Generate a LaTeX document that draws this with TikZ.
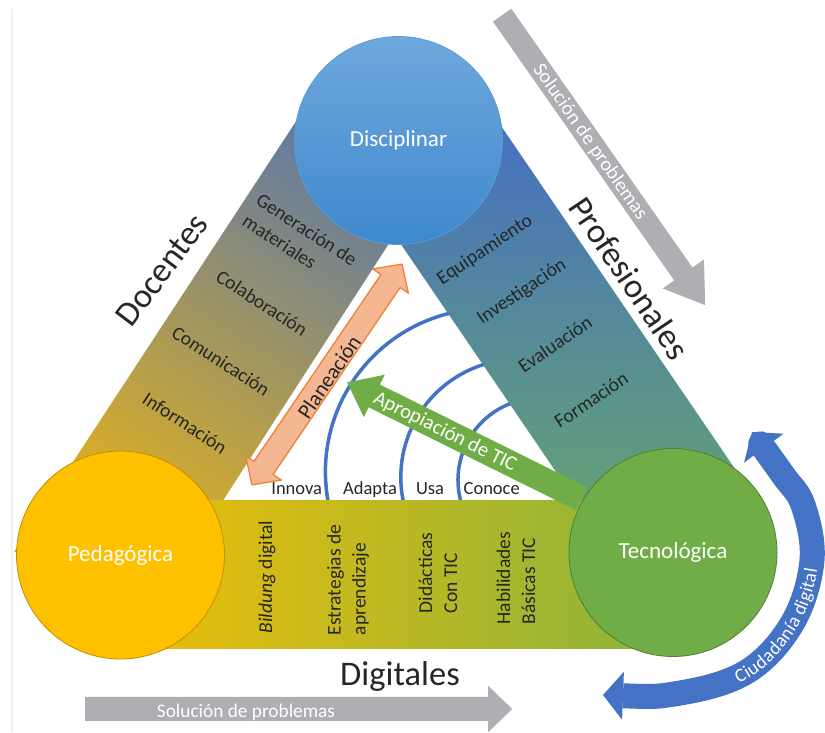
\documentclass[tikz,border=0pt]{standalone}
\usepackage{fontspec}
\setmainfont{Carlito}
\usetikzlibrary{shapes.arrows,arrows.meta,decorations.text}

\definecolor{textgray}{HTML}{262626}
\definecolor{framegray}{HTML}{F0F0F0}
\definecolor{docgold}{HTML}{E0B020}
\definecolor{docslate}{HTML}{5F7AA5}
\definecolor{problue}{HTML}{4570C2}
\definecolor{progreen}{HTML}{67A86B}
\definecolor{diggold}{HTML}{EEBE08}
\definecolor{diggreen}{HTML}{89B33D}
\definecolor{arcblue}{HTML}{4472C4}
\definecolor{disctop}{HTML}{6FA8DC}
\definecolor{discbot}{HTML}{3F88CD}
\definecolor{discline}{HTML}{5B9BD5}
\definecolor{pedfill}{HTML}{FFC000}
\definecolor{pedline}{HTML}{BF9000}
\definecolor{tecfill}{HTML}{70AD47}
\definecolor{tecline}{HTML}{507E32}
\definecolor{planorange}{HTML}{ED7D31}
\definecolor{plansalmon}{HTML}{F5B692}
\definecolor{solgray}{HTML}{AEAFB2}

\tikzset{
  compcircle/.style={circle, minimum size=208pt, inner sep=0pt, line width=0.8pt,
    text=white, font=\fontsize{23}{28}\selectfont},
  bandtext/.style={text=textgray, font=\fontsize{19.5}{25}\selectfont, align=left},
  biglabel/.style={text=textgray, font=\fontsize{34.5}{40}\selectfont},
  lvltext/.style={text=textgray, font=\fontsize{18.5}{22}\selectfont},
  arrowtext/.style={font=\fontsize{20}{24}\selectfont},
  levels/.style={draw=arcblue, line width=3.5pt},
  blockarrow/.style={text height=0pt, text depth=0pt, inner xsep=0pt, anchor=tail},
}

\begin{document}
\begin{tikzpicture}[x=1pt, y=-1pt, line join=round]
\useasboundingbox (0,0) rectangle (825,732);
\draw[framegray, line width=1.5pt] (12,9) -- (12,732);

% levels of appropriation
\draw[levels] ([shift={(168:163.2)}]488.6,471.7) arc[start angle=168, end angle=275, radius=163.2];
\draw[levels] ([shift={(165:118.1)}]518.9,477.2) arc[start angle=165, end angle=280, radius=118.1];
\draw[levels] ([shift={(160:82)}]540,480) arc[start angle=160, end angle=285, radius=82];

% bands
\shade[left color=docgold, right color=docslate, shading angle=147]
  (310,100) -- (430,180) -- (204,530) -- (14,552) -- cycle;
\shade[top color=problue, bottom color=progreen]
  (497,120) -- (364,190) -- (616,560) -- (742.6,480) -- cycle;
\shade[left color=diggold, right color=diggreen] (120,500) rectangle (673,648);

% arrows
\node[double arrow, draw=planorange, fill=plansalmon, line width=1.2pt,
  text height=0pt, text depth=0pt, inner xsep=0pt, inner ysep=11pt,
  minimum height=267pt, minimum width=42pt, double arrow head extend=10pt,
  double arrow tip angle=93, rotate=55.8] (plan) at (327,374.5) {};
\node[blockarrow, single arrow, fill=tecfill, inner ysep=12.5pt,
  minimum height=262pt, minimum width=47pt, single arrow head extend=11pt,
  single arrow tip angle=76, rotate=153.6] (apro) at (582,499) {};
\node[blockarrow, single arrow, fill=solgray, inner ysep=11pt,
  minimum height=354pt, minimum width=50pt, single arrow head extend=14pt,
  single arrow tip angle=67, rotate=-55] (solA) at (502,15) {};
\node[blockarrow, single arrow, fill=solgray, inner ysep=12pt,
  minimum height=427pt, minimum width=46pt, single arrow head extend=11pt,
  single arrow tip angle=88] (solB) at (85,709) {};

\draw[arcblue, line width=25pt,
  {Triangle[width=48pt,length=20pt,line width=0pt]}-{Triangle[width=49pt,length=20pt,line width=0pt]}]
  plot[smooth, tension=0.6] coordinates {(603,695) (680,693) (748,671) (793,622) (812,560) (803,505) (783,475) (752,432)};
\path[decorate, decoration={text along path, raise=-6.5pt, text align={left indent=135pt},
  text={|\color{white}\fontsize{19}{23}\selectfont|Ciudadanía digital}}]
  plot[smooth, tension=0.6] coordinates {(603,695) (680,693) (748,671) (793,622) (812,560) (803,505) (783,475) (752,432)};

% competencies
\node[compcircle, top color=disctop, bottom color=discbot, draw=discline] (disc) at (398.5,140.5) {Disciplinar};
\node[compcircle, fill=pedfill, draw=pedline] (ped) at (120.5,555) {Pedagógica};
\node[compcircle, fill=tecfill, draw=tecline] (tec) at (673,552.5) {Tecnológica};

% band labels
\node[bandtext, rotate=-33] (gen) at (300,240) {Generación de\\materiales};
\node[bandtext, rotate=-33] (col) at (262,303) {Colaboración};
\node[bandtext, rotate=-33] (com) at (221,361) {Comunicación};
\node[bandtext, rotate=-33] (inf) at (185,423) {Información};

\node[bandtext, rotate=34] (equ) at (485,250) {Equipamiento};
\node[bandtext, rotate=34] (inv) at (522,292) {Investigación};
\node[bandtext, rotate=34] (eva) at (555,344) {Evaluación};
\node[bandtext, rotate=34] (for) at (591,400) {Formación};

\node[bandtext, rotate=90] (bil) at (267,577) {\textit{Bildung} digital};
\node[bandtext, rotate=90] (est) at (348,580) {Estrategias de\\aprendizaje};
\node[bandtext, rotate=90] (did) at (438,573) {Didácticas\\Con TIC};
\node[bandtext, rotate=90] (hab) at (516,578) {Habilidades\\Básicas TIC};

\node[biglabel, rotate=53] (doc) at (162,270) {Docentes};
\node[biglabel, rotate=-56] (pro) at (630,278) {Profesionales};
\node[biglabel] (dig) at (400,676) {Digitales};

\node[lvltext, anchor=base] (inn) at (296.7,494) {Innova};
\node[lvltext, anchor=base] (ada) at (370,494) {Adapta};
\node[lvltext, anchor=base] (usa) at (430,494) {Usa};
\node[lvltext, anchor=base] (con) at (491.7,494) {Conoce};

% arrow labels
\node[arrowtext, text=textgray, font=\fontsize{21.5}{25}\selectfont, rotate=55.8] (planl) at (329,377) {Planeación};
\node[arrowtext, text=white, font=\fontsize{20.5}{24}\selectfont, rotate=-26.4] (aprol) at (445,432) {Apropiación de TIC};
\node[arrowtext, text=white, rotate=-55] (solAl) at (590,142) {Solución de problemas};
\node[arrowtext, text=white, font=\fontsize{19.3}{23}\selectfont, anchor=base] (solBl) at (246,717) {Solución de problemas};
\end{tikzpicture}
\end{document}
